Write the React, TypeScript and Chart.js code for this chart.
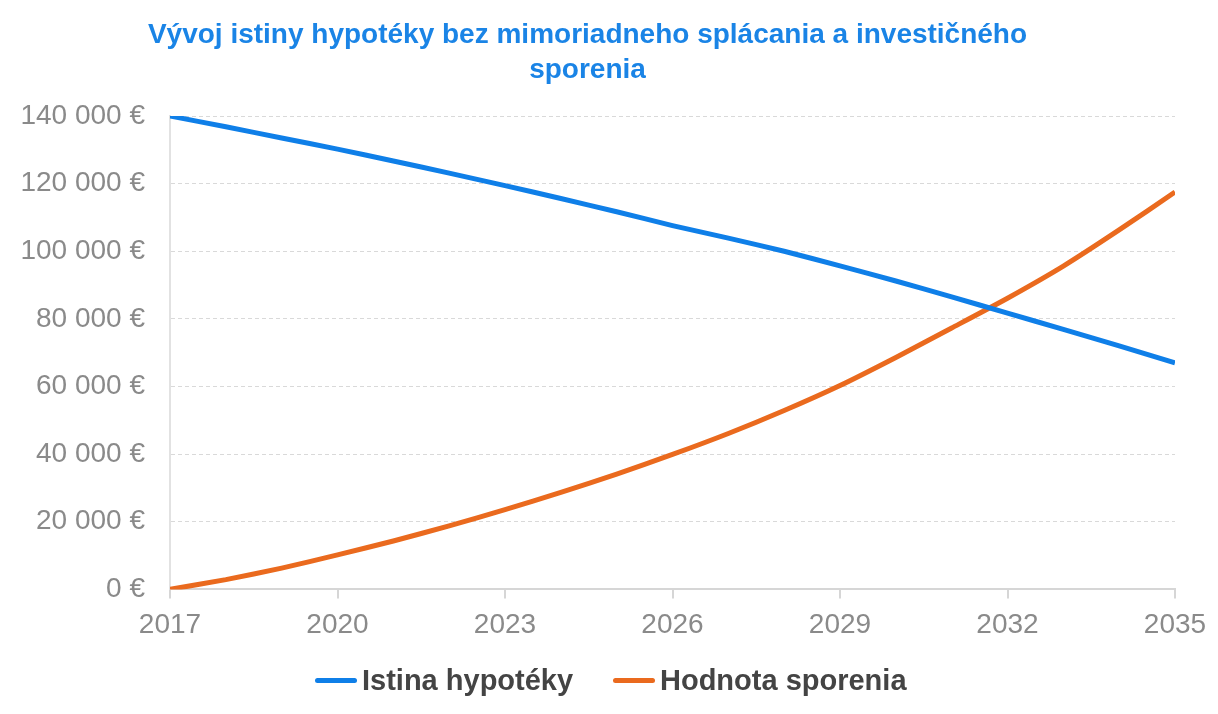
import { useEffect, useRef } from "react";
import { Chart, registerables } from "chart.js";

Chart.register(...registerables);

const years = [
  2017, 2018, 2019, 2020, 2021, 2022, 2023, 2024, 2025, 2026,
  2027, 2028, 2029, 2030, 2031, 2032, 2033, 2034, 2035,
];
const principal = [
  140000, 136800, 133500, 130200, 126700, 123100, 119400, 115600, 111700, 107600,
  103900, 100000, 95700, 91200, 86500, 81700, 76900, 72000, 67000,
];
const savings = [
  0, 2900, 6300, 10200, 14300, 18800, 23600, 28700, 34100, 39900,
  46100, 52900, 60300, 68600, 77300, 86100, 95600, 106300, 117500,
];
const yearTicks = [2017, 2020, 2023, 2026, 2029, 2032, 2035];
const titleLines = [
  "Vývoj istiny hypotéky bez mimoriadneho splácania a investičného",
  "sporenia",
];
const seriesNames = ["Istina hypotéky", "Hodnota sporenia"];

const BLUE = "#0f7fe8";
const ORANGE = "#ea6a1e";
const FONT = "'Liberation Sans', Arial, sans-serif";

function formatEuro(v: number) {
  return String(Math.round(v)).replace(/\B(?=(\d{3})+(?!\d))/g, " ") + " €";
}

function LegendItem({ color, label, left }: { color: string; label: string; left: number }) {
  return (
    <div
      style={{
        position: "absolute",
        left,
        top: 663,
        height: 34,
        display: "flex",
        alignItems: "center",
        fontFamily: FONT,
        fontWeight: "bold",
        fontSize: 29,
        color: "#444444",
        whiteSpace: "nowrap",
      }}
    >
      <span
        style={{
          display: "inline-block",
          width: 42,
          height: 5,
          borderRadius: 3,
          background: color,
          marginRight: 5,
        }}
      />
      {label}
    </div>
  );
}

export default function App() {
  const canvasRef = useRef<HTMLCanvasElement>(null);

  useEffect(() => {
    if (!canvasRef.current) return;
    const ctx = canvasRef.current.getContext("2d")!;

    const chart = new Chart(ctx, {
      type: "line",
      data: {
        datasets: [
          {
            label: seriesNames[0],
            data: years.map((y, i) => ({ x: y, y: principal[i] })),
            borderColor: BLUE,
            backgroundColor: BLUE,
            borderWidth: 5,
            pointRadius: 0,
            tension: 0.2,
          },
          {
            label: seriesNames[1],
            data: years.map((y, i) => ({ x: y, y: savings[i] })),
            borderColor: ORANGE,
            backgroundColor: ORANGE,
            borderWidth: 5,
            pointRadius: 0,
            tension: 0.2,
          },
        ],
      },
      options: {
        responsive: true,
        maintainAspectRatio: false,
        animation: false,
        layout: { padding: { left: 0, right: 43, top: 8, bottom: 62 } },
        plugins: {
          title: {
            display: true,
            text: titleLines,
            color: "#1a84e6",
            font: { family: FONT, size: 28, weight: "bold", lineHeight: 1.25 },
            padding: { top: 10, bottom: 28 },
          },
          legend: { display: false },
          tooltip: { enabled: false },
        },
        scales: {
          x: {
            type: "linear",
            min: 2017,
            max: 2035,
            afterBuildTicks: (scale) => {
              scale.ticks = yearTicks.map((v) => ({ value: v }));
            },
            grid: {
              drawOnChartArea: false,
              drawTicks: true,
              tickLength: 9,
              color: "#d6d6d6",
              lineWidth: 2,
            },
            border: { color: "#d6d6d6", width: 2 },
            ticks: {
              color: "#8a8a8a",
              font: { family: FONT, size: 28 },
              padding: 10,
              maxRotation: 0,
              callback: (v) => String(v),
            },
          },
          y: {
            min: 0,
            max: 140000,
            afterFit: (scale) => {
              scale.width = 170;
            },
            grid: {
              color: "#d9d9d9",
              drawTicks: false,
            },
            border: { color: "#e2e2e2", width: 2, dash: [4, 3] },
            ticks: {
              stepSize: 20000,
              color: "#8a8a8a",
              font: { family: FONT, size: 28 },
              padding: 25,
              callback: (v) => formatEuro(Number(v)),
            },
          },
        },
      },
    });

    return () => {
      chart.destroy();
    };
  }, []);

  return (
    <div
      style={{
        position: "fixed",
        left: 0,
        top: 0,
        width: 1218,
        height: 714,
        background: "#ffffff",
      }}
    >
      <canvas ref={canvasRef} />
      <LegendItem color={BLUE} label={seriesNames[0]} left={315} />
      <LegendItem color={ORANGE} label={seriesNames[1]} left={613} />
    </div>
  );
}
